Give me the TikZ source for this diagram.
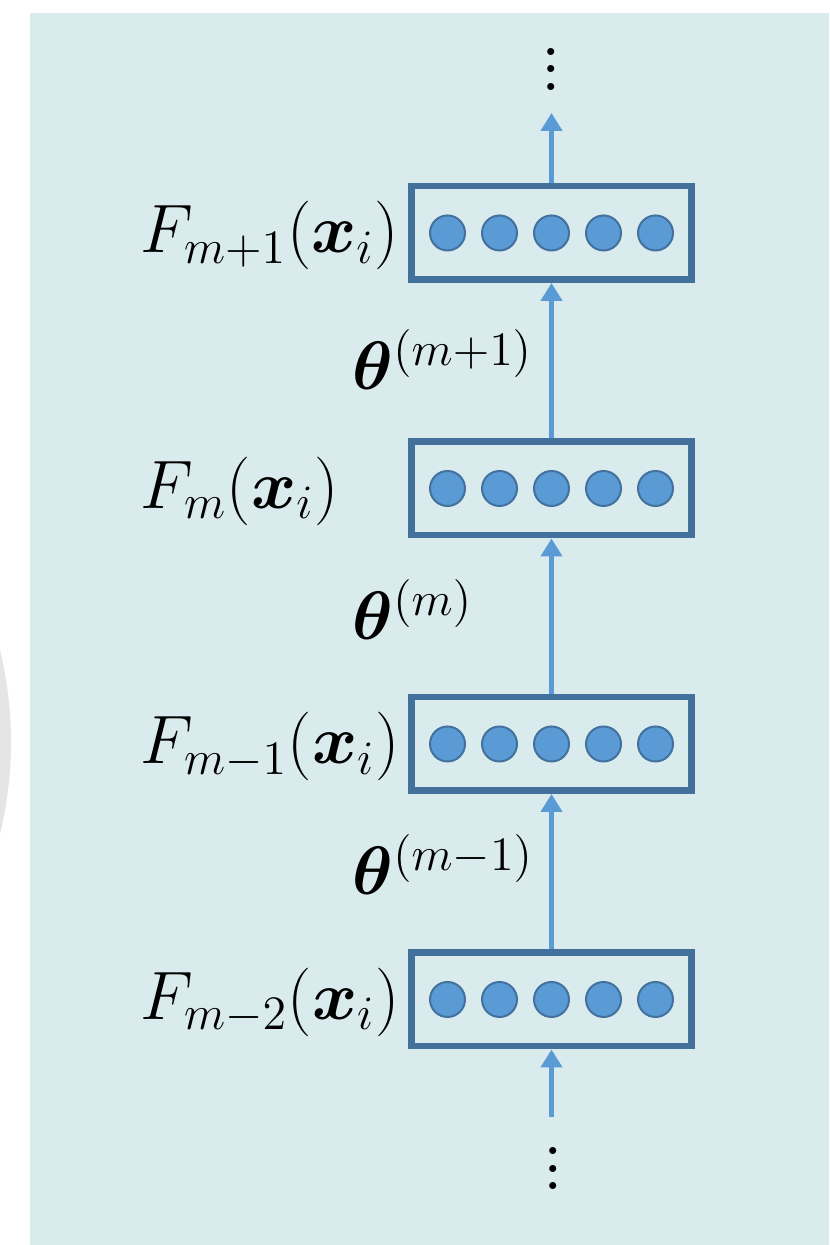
\RequirePackage{fix-cm}
\documentclass[tikz,border=0pt]{standalone}
\usepackage{amsmath,bm}
\usepackage{tikz}
\usetikzlibrary{arrows.meta,positioning}
\definecolor{Fondo}{HTML}{DAEBEE}
\definecolor{AzulOscuro}{HTML}{41719C}
\definecolor{AzulClaro}{HTML}{5B9BD5}
\definecolor{Gris}{HTML}{E5E5E5}

\begin{document}
\begin{tikzpicture}[
  every node/.style={font=\fontsize{19.5}{23}\selectfont},
  etiqueta/.style={anchor=base west,inner sep=0pt},
  capa/.style={draw=AzulOscuro,line width=0.065cm,minimum width=2.80cm,
    minimum height=0.935cm,inner sep=0pt},
  neurona/.style={circle,fill=AzulClaro,draw=AzulOscuro,line width=0.02cm,
    minimum size=0.35cm,inner sep=0pt},
  puntos/.style={anchor=base,scale=1.25,inner sep=0pt},
  flow/.style={-{Triangle[width=2.1mm,length=1.8mm]},line width=0.055cm,AzulClaro}
]
  \useasboundingbox (0,0) rectangle (8.29,12.45);
  \begin{scope}
    \clip (0,0) rectangle (0.30,12.45);
    \fill[Gris] (-3.79,5.03) circle (3.90);
  \end{scope}
  \fill[Fondo] (0.30,0) rectangle (8.29,12.32);

  % capas
  \node[capa] (f1) at (5.515,10.12) {};
  \node[capa] (f2) at (5.515,7.565) {};
  \node[capa] (f3) at (5.515,5.01) {};
  \node[capa] (f4) at (5.515,2.455) {};
  \foreach \c in {f1,f2,f3,f4}
    \foreach \k in {1,...,5}
      \node[neurona] (\c-\k) at ([xshift={(\k-3)*0.52cm}]\c.center) {};

  \node[etiqueta] (lf1) at (1.40,9.92) {$F_{m+1}(\bm{x}_i)$};
  \node[etiqueta] (lf2) at (1.40,7.365) {$F_{m}(\bm{x}_i)$};
  \node[etiqueta] (lf3) at (1.40,4.81) {$F_{m-1}(\bm{x}_i)$};
  \node[etiqueta] (lf4) at (1.40,2.255) {$F_{m-2}(\bm{x}_i)$};

  \node[etiqueta] (t1) at (3.52,8.55) {$\bm{\theta}^{(m+1)}$};
  \node[etiqueta] (t2) at (3.52,6.05) {$\bm{\theta}^{(m)}$};
  \node[etiqueta] (t3) at (3.52,3.50) {$\bm{\theta}^{(m-1)}$};

  % flechas
  \coordinate (arriba) at (5.515,11.32);
  \coordinate (abajo) at (5.515,1.28);
  \draw[flow] (abajo) -- (f4.south);
  \draw[flow] (f4.north) -- (f3.south);
  \draw[flow] (f3.north) -- (f2.south);
  \draw[flow] (f2.north) -- (f1.south);
  \draw[flow] (f1.north) -- (arriba);

  \node[puntos] (puntosA) at (5.515,11.545) {$\vdots$};
  \node[puntos] (puntosB) at (5.53,0.55) {$\vdots$};
\end{tikzpicture}
\end{document}
